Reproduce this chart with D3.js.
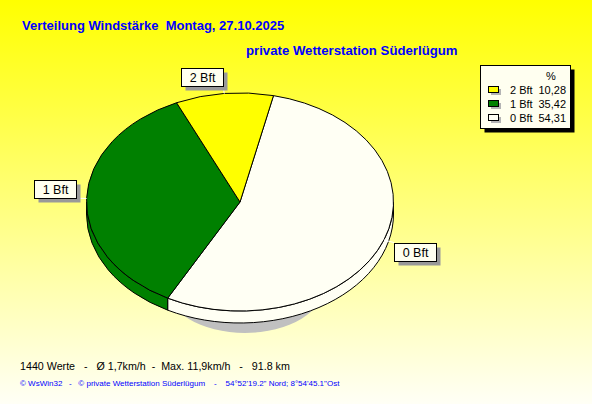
<!DOCTYPE html>
<html>
<head>
<meta charset="utf-8">
<script src="https://cdn.jsdelivr.net/npm/d3@7"></script>
<style>
  body { margin: 0; padding: 0; }
  svg { display: block; }
  text { white-space: pre; }
</style>
</head>
<body>
<div class="rep"></div>
<script>
// data
var categories = ["2 Bft", "1 Bft", "0 Bft"];
var percents = [10.28, 35.42, 54.31];
var colors = ["#ffff00", "#008000", "#fffff4"];
var pieOrder = [2, 1, 0]; // clockwise drawing order
var titleText = "Verteilung Windstärke  Montag, 27.10.2025";
var subTitle = "private Wetterstation Süderlügum";
var footer1 = "1440 Werte   -   Ø 1,7km/h  -  Max. 11,9km/h   -   91.8 km";
var footer2 = "© WsWin32   -   © private Wetterstation Süderlügum    -    54°52'19.2\" Nord; 8°54'45.1\"Ost";

function draw(width, height) {
    var s = d3.select(".rep").append("svg")
        .attr("width", width)
        .attr("height", height);

    var grad = s.append("defs").append("linearGradient")
        .attr("id", "bg").attr("x1", 0).attr("y1", 0).attr("x2", 0).attr("y2", 1);
    grad.append("stop").attr("offset", "0%").attr("stop-color", "#ffff00");
    grad.append("stop").attr("offset", "100%").attr("stop-color", "#fffff6");
    s.append("rect").attr("width", width).attr("height", height).style("fill", "url(#bg)");

    // titles
    s.append("text").text(titleText)
        .attr("x", 22).attr("y", 30)
        .style("font-family", "Liberation Sans, Arial, sans-serif")
        .style("font-weight", "bold").style("font-size", "13px")
        .style("fill", "#0000ff");
    s.append("text").text(subTitle)
        .attr("x", 246).attr("y", 55)
        .style("font-family", "Liberation Sans, Arial, sans-serif")
        .style("font-weight", "bold").style("font-size", "13.2px")
        .style("fill", "#0000ff");

    // pie geometry
    var cx = 240, cy = 202, rx = 153.5, ry = 109, depth = 12;
    function pt(a, ox, oy, dy) {
        return [cx + (rx + ox) * Math.sin(a), cy + (dy || 0) - (ry + oy) * Math.cos(a)];
    }
    var pie = d3.pie().sort(null).value(function(i) { return percents[i]; })
        .startAngle(0.22).endAngle(0.22 + 2 * Math.PI);
    var arcs = pie(pieOrder);

    // shadow under the pie
    s.append("ellipse")
        .attr("cx", 245).attr("cy", 284).attr("rx", 80).attr("ry", 49)
        .style("fill", "#c0c0c0");

    // side walls (front half only)
    arcs.forEach(function(d) {
        var a0 = Math.max(d.startAngle, Math.PI / 2);
        var a1 = Math.min(d.endAngle, 3 * Math.PI / 2);
        if (a1 <= a0) return;
        var p0 = pt(a0, 0, 0), p1 = pt(a1, 0, 0);
        var q0 = pt(a0, 0, 0, depth), q1 = pt(a1, 0, 0, depth);
        var big = (a1 - a0) > Math.PI ? 1 : 0;
        var path = "M" + p0 + "A" + rx + "," + ry + " 0 " + big + " 1 " + p1 +
            "L" + q1 + "A" + rx + "," + ry + " 0 " + big + " 0 " + q0 + "Z";
        s.append("path").attr("d", path)
            .style("fill", colors[d.data])
            .style("stroke", "black").style("stroke-width", "1px");
    });

    // top faces
    arcs.forEach(function(d) {
        var p0 = pt(d.startAngle, 0, 0), p1 = pt(d.endAngle, 0, 0);
        var big = (d.endAngle - d.startAngle) > Math.PI ? 1 : 0;
        var path = "M" + cx + "," + cy + "L" + p0 +
            "A" + rx + "," + ry + " 0 " + big + " 1 " + p1 + "Z";
        s.append("path").attr("d", path)
            .style("fill", colors[d.data])
            .style("stroke", "black").style("stroke-width", "1px");
    });

    // slice labels
    var boxW = 42, boxH = 18;
    arcs.forEach(function(d) {
        var m = (d.startAngle + d.endAngle) / 2;
        var a = pt(m, 0, 0), b = pt(m, 11, 8);
        s.append("line")
            .attr("x1", a[0]).attr("y1", a[1]).attr("x2", b[0]).attr("y2", b[1])
            .style("stroke", "white").style("stroke-width", "1px");
        var bx = b[0] < cx ? b[0] - boxW : b[0];
        var by = b[1] < cy ? b[1] - boxH : b[1];
        bx = Math.round(bx) + 0.5; by = Math.round(by) + 0.5;
        s.append("rect")
            .attr("x", bx + 4).attr("y", by + 4).attr("width", boxW).attr("height", boxH)
            .style("fill", "#999999");
        s.append("rect")
            .attr("x", bx).attr("y", by).attr("width", boxW).attr("height", boxH)
            .style("fill", "#fffff0").style("stroke", "black").style("stroke-width", "1px");
        s.append("text").text(categories[d.data])
            .attr("x", bx + boxW / 2).attr("y", by + 13.5)
            .attr("text-anchor", "middle")
            .style("font-family", "Liberation Sans, Arial, sans-serif")
            .style("font-size", "12.5px").style("fill", "black");
    });

    // legend
    var lx = 480.5, ly = 65.5, lw = 90, lh = 63;
    s.append("rect").attr("x", lx + 4).attr("y", ly + 4).attr("width", lw).attr("height", lh)
        .style("fill", "black");
    s.append("rect").attr("x", lx).attr("y", ly).attr("width", lw).attr("height", lh)
        .style("fill", "#fffff0").style("stroke", "black").style("stroke-width", "1px");
    s.append("text").text("%")
        .attr("x", 551).attr("y", 80).attr("text-anchor", "middle")
        .style("font-family", "Liberation Sans, Arial, sans-serif")
        .style("font-size", "11px");
    var legY = d3.scaleBand().domain(categories).range([83, 125]);
    categories.forEach(function(c, i) {
        var y = legY(c) + legY.bandwidth() / 2;
        s.append("rect").attr("x", 491).attr("y", y - 1).attr("width", 10).attr("height", 6)
            .style("fill", "#b4b4b4");
        s.append("rect").attr("x", 488.5).attr("y", y - 3.5).attr("width", 10).attr("height", 6)
            .style("fill", colors[i]).style("stroke", "black").style("stroke-width", "1px");
        s.append("text").text(c)
            .attr("x", 510).attr("y", y + 4)
            .style("font-family", "Liberation Sans, Arial, sans-serif")
            .style("font-size", "11px");
        s.append("text").text(d3.format(".2f")(percents[i]).replace(".", ","))
            .attr("x", 566).attr("y", y + 4).attr("text-anchor", "end")
            .style("font-family", "Liberation Sans, Arial, sans-serif")
            .style("font-size", "11px");
    });

    // footer
    s.append("text").text(footer1)
        .attr("x", 20).attr("y", 370)
        .style("font-family", "Liberation Sans, Arial, sans-serif")
        .style("font-size", "10.7px").style("fill", "black");
    s.append("text").text(footer2)
        .attr("x", 20).attr("y", 386)
        .style("font-family", "Liberation Sans, Arial, sans-serif")
        .style("font-size", "8px").style("fill", "#0000ff");
}

draw(592, 404);
</script>
</body>
</html>
